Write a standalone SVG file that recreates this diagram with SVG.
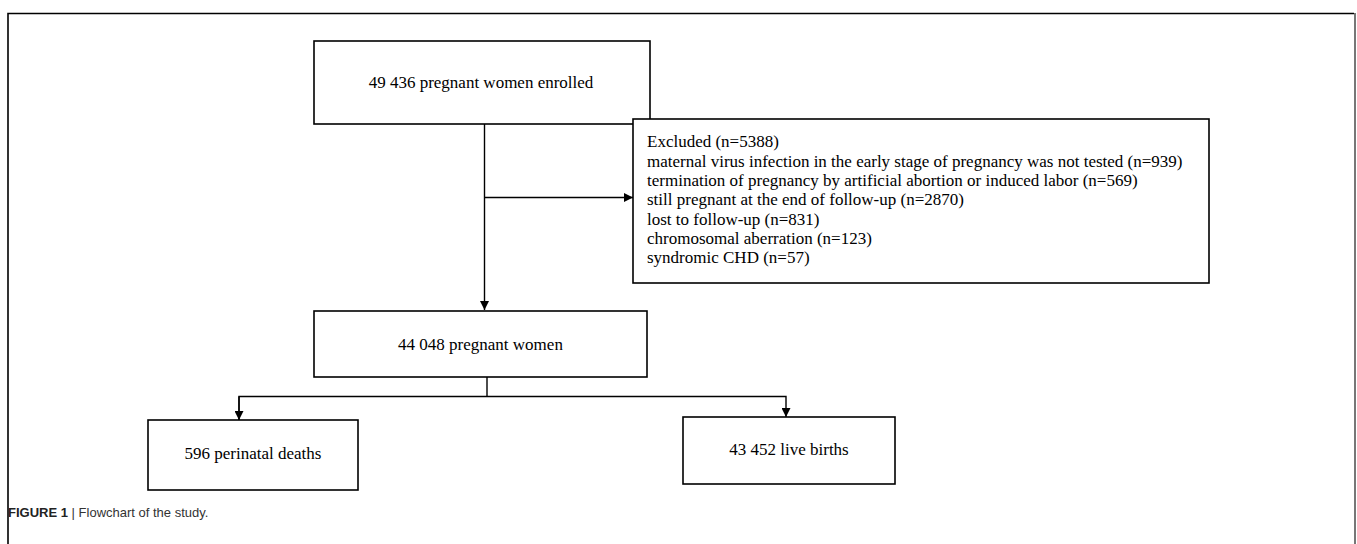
<svg xmlns="http://www.w3.org/2000/svg" width="1357" height="544" viewBox="0 0 1357 544">
<defs>
<style>
.box{fill:#fff;stroke:#000;stroke-width:1.6}
.t{font-family:"Liberation Serif","Times New Roman",serif;font-size:17px;fill:#000}
.c{text-anchor:middle}
.ln{fill:none;stroke:#000;stroke-width:1.4}
.cap{font-family:"Liberation Sans",Arial,sans-serif;font-size:13px;fill:#333}
</style>
<marker id="ah" viewBox="0 0 10 10" refX="10" refY="5" markerWidth="9" markerHeight="9" markerUnits="userSpaceOnUse" orient="auto">
<path d="M0,0 L10,5 L0,10 Z" fill="#000"/>
</marker>
</defs>
<rect width="1357" height="544" fill="#fff"/>
<g id="frame">
<path d="M8,560 L8,13.5 L1354,13.5" fill="none" stroke="#000" stroke-width="1.6"/>
<line x1="1355" y1="13" x2="1355" y2="560" stroke="#777" stroke-width="2"/>
</g>
<g id="connectors">
<line class="ln" x1="484.5" y1="124" x2="484.5" y2="310" marker-end="url(#ah)"/>
<line class="ln" x1="484.5" y1="197.5" x2="633" y2="197.5" marker-end="url(#ah)"/>
<line class="ln" x1="487" y1="377" x2="487" y2="396.5"/>
<path class="ln" d="M239,420 L239,396.5 L786,396.5 L786,417" marker-end="url(#ah)"/>
<line class="ln" x1="239" y1="396.5" x2="239" y2="420" marker-end="url(#ah)"/>
</g>
<g id="enrolled">
<rect class="box" x="314" y="41" width="336" height="83"/>
<text class="t c" x="481" y="88">49 436 pregnant women enrolled</text>
</g>
<g id="excluded">
<rect class="box" x="633" y="119" width="576" height="164"/>
<text class="t" x="647" y="147.3">Excluded (n=5388)</text>
<text class="t" x="647" y="166.7">maternal virus infection in the early stage of pregnancy was not tested (n=939)</text>
<text class="t" x="647" y="186">termination of pregnancy by artificial abortion or induced labor (n=569)</text>
<text class="t" x="647" y="205.3">still pregnant at the end of follow-up (n=2870)</text>
<text class="t" x="647" y="224.7">lost to follow-up (n=831)</text>
<text class="t" x="647" y="244">chromosomal aberration (n=123)</text>
<text class="t" x="647" y="263.3">syndromic CHD (n=57)</text>
</g>
<g id="women">
<rect class="box" x="314" y="311" width="333" height="66"/>
<text class="t c" x="480.5" y="350">44 048 pregnant women</text>
</g>
<g id="deaths">
<rect class="box" x="148" y="420" width="210" height="70"/>
<text class="t c" x="253" y="459">596 perinatal deaths</text>
</g>
<g id="births">
<rect class="box" x="683" y="417" width="212" height="67"/>
<text class="t c" x="789" y="455">43 452 live births</text>
</g>
<g id="caption">
<text class="cap" x="8" y="517"><tspan font-weight="bold" fill="#222">FIGURE 1</tspan> | Flowchart of the study.</text>
</g>
</svg>
